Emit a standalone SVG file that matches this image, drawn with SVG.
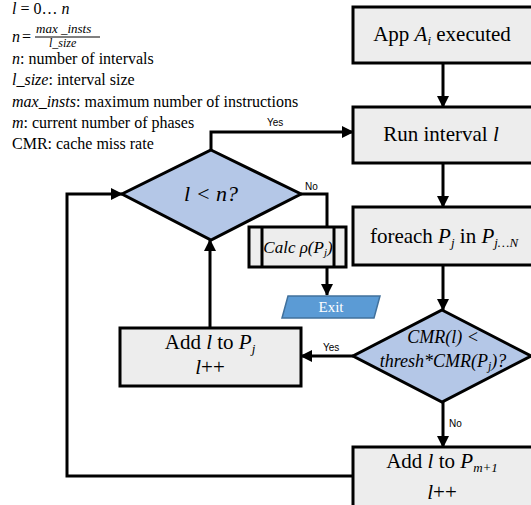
<svg xmlns="http://www.w3.org/2000/svg" width="531" height="505" viewBox="0 0 531 505">
<style>
.box{fill:#ededed;stroke:#000;stroke-width:3}
.dia{fill:#b4c7e7;stroke:#000;stroke-width:3}
.ln{fill:none;stroke:#000;stroke-width:3}
.t{font-family:"Liberation Serif",serif;fill:#000}
.it{font-style:italic}
.lg{font-family:"Liberation Serif",serif;font-size:16px;fill:#000}
.lab{font-family:"Liberation Sans",sans-serif;font-size:10px;fill:#000}
</style>
<defs>
<marker id="ah" markerUnits="userSpaceOnUse" markerWidth="12" markerHeight="12" viewBox="0 0 12 12" refX="11" refY="6" orient="auto">
<path d="M0,0 L12,6 L0,12 Z" fill="#000"/>
</marker>
</defs>

<g id="legend">
<text class="lg" x="12" y="14"><tspan class="it">l</tspan> = 0… <tspan class="it">n</tspan></text>
<text class="lg it" x="12" y="42">n</text>
<text class="lg" x="22" y="42">=</text>
<text class="lg it" x="36" y="33" style="font-size:13px">max _insts</text>
<line x1="35" y1="37" x2="100" y2="37" stroke="#000" stroke-width="1"/>
<text class="lg it" x="49" y="47" style="font-size:12px">l_size</text>
<text class="lg" x="12" y="64"><tspan class="it">n</tspan>: number of intervals</text>
<text class="lg" x="12" y="85"><tspan class="it">l_size</tspan>: interval size</text>
<text class="lg" x="12" y="107"><tspan class="it">max_insts</tspan>: maximum number of instructions</text>
<text class="lg" x="12" y="128"><tspan class="it">m</tspan>: current number of phases</text>
<text class="lg" x="12" y="149">CMR: cache miss rate</text>
</g>

<g id="connectors">
<line class="ln" x1="443" y1="63" x2="443" y2="107" marker-end="url(#ah)"/>
<line class="ln" x1="443" y1="163" x2="443" y2="207" marker-end="url(#ah)"/>
<line class="ln" x1="443" y1="265" x2="443" y2="310" marker-end="url(#ah)"/>
<polyline class="ln" points="211,150 211,132 353,132" marker-end="url(#ah)"/>
<polyline class="ln" points="301,194 327,194 327,295" marker-end="url(#ah)"/>
<line class="ln" x1="353" y1="356" x2="301" y2="356" marker-end="url(#ah)"/>
<line class="ln" x1="210" y1="328" x2="210" y2="240" marker-end="url(#ah)"/>
<line class="ln" x1="443" y1="402" x2="443" y2="447" marker-end="url(#ah)"/>
<polyline class="ln" points="353,476 67,476 67,194 122,194" marker-end="url(#ah)"/>
<text class="lab" x="267" y="126">Yes</text>
<text class="lab" x="305" y="190">No</text>
<text class="lab" x="323" y="351">Yes</text>
<text class="lab" x="449" y="427">No</text>
</g>

<g id="app">
<rect class="box" x="353" y="7" width="185" height="56"/>
<text class="t" x="442" y="41" font-size="21" text-anchor="middle">App <tspan class="it">A</tspan><tspan class="it" font-size="13" dy="4">i</tspan><tspan dy="-4"> executed</tspan></text>
</g>

<g id="run">
<rect class="box" x="353" y="107" width="185" height="56"/>
<text class="t" x="441" y="141" font-size="21" text-anchor="middle">Run interval <tspan class="it">l</tspan></text>
</g>

<g id="foreach">
<rect class="box" x="353" y="207" width="185" height="58"/>
<text class="t" x="444" y="243" font-size="21" text-anchor="middle">foreach <tspan class="it">P</tspan><tspan class="it" font-size="13" dy="4">j</tspan><tspan dy="-4"> in </tspan><tspan class="it">P</tspan><tspan class="it" font-size="13" dy="4">j…N</tspan></text>
</g>

<g id="cond1">
<polygon class="dia" points="211,150 301,194 211,240 122,194"/>
<text class="t it" x="211" y="201" font-size="22" text-anchor="middle">l &lt; n?</text>
</g>

<g id="calc">
<rect class="box" x="249" y="227" width="97" height="40"/>
<line class="ln" x1="262" y1="227" x2="262" y2="267"/>
<line class="ln" x1="334" y1="227" x2="334" y2="267"/>
<text class="t it" x="298" y="253" font-size="17" text-anchor="middle">Calc ρ(P<tspan font-size="11" dy="3">j</tspan><tspan dy="-3">)</tspan></text>
</g>

<g id="exit">
<polygon points="288,296 380,296 374,318 282,318" fill="#5b9bd5" stroke="#41719c" stroke-width="1.5"/>
<text class="t" x="331" y="312" font-size="15" style="fill:#fff" text-anchor="middle">Exit</text>
</g>

<g id="cond2">
<polygon class="dia" points="442,310 531,356 442,402 353,356"/>
<text class="t it" x="443" y="343" font-size="18" text-anchor="middle">CMR(l) &lt;</text>
<text class="t it" x="443" y="367" font-size="18" text-anchor="middle">thresh*CMR(P<tspan font-size="12" dy="3">j</tspan><tspan dy="-3">)?</tspan></text>
</g>

<g id="addj">
<rect class="box" x="120" y="328" width="181" height="58"/>
<text class="t" x="210" y="349" font-size="21" text-anchor="middle">Add <tspan class="it">l</tspan> to <tspan class="it">P</tspan><tspan class="it" font-size="13" dy="4">j</tspan></text>
<text class="t" x="210" y="374" font-size="21" text-anchor="middle"><tspan class="it">l</tspan>++</text>
</g>

<g id="addm">
<rect class="box" x="353" y="447" width="185" height="60"/>
<text class="t" x="442" y="468" font-size="21" text-anchor="middle">Add <tspan class="it">l</tspan> to <tspan class="it">P</tspan><tspan class="it" font-size="13" dy="4">m+1</tspan></text>
<text class="t" x="442" y="499" font-size="21" text-anchor="middle"><tspan class="it">l</tspan>++</text>
</g>
</svg>
